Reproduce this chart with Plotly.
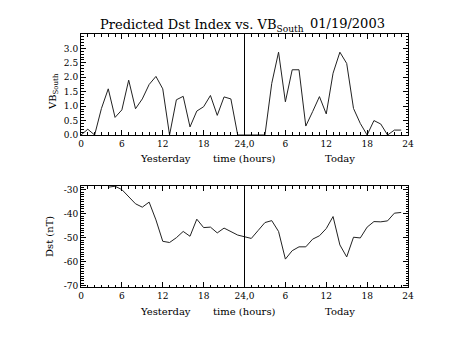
import plotly.graph_objects as go

# ---- data ----
vb_hours = [0, 1, 2, 3, 4, 5, 6, 7, 8, 9, 10, 11, 12, 13, 14, 15, 16, 17, 18, 19,
            20, 21, 22, 23, 24, 25, 26, 27, 28, 29, 30, 31, 32, 33, 34, 35, 36, 37,
            38, 39, 40, 41, 42, 43, 44, 45, 46, 47]
vb_south = [0.0, 0.2, 0.0, 0.92, 1.6, 0.61, 0.87, 1.9, 0.91, 1.25, 1.75, 2.03, 1.6,
            0.0, 1.22, 1.34, 0.28, 0.83, 0.98, 1.37, 0.68, 1.32, 1.25, 0.0,
            0.0, 0.0, 0.0, 0.0, 1.79, 2.87, 1.15, 2.26, 2.26, 0.31, 0.81, 1.33,
            0.73, 2.14, 2.87, 2.48, 0.92, 0.40, 0.0, 0.50, 0.38, 0.0, 0.17, 0.17]

dst_hours = [4, 5, 6, 7, 8, 9, 10, 11, 12, 13, 14, 15, 16, 17, 18, 19, 20, 21, 22,
             23, 24, 25, 26, 27, 28, 29, 30, 31, 32, 33, 34, 35, 36, 37, 38, 39, 40,
             41, 42, 43, 44, 45, 46, 47]
dst = [-29.0, -28.6, -30.0, -33.0, -35.9, -37.3, -35.2, -42.6, -51.5, -52.0, -50.0,
       -47.4, -49.4, -42.3, -45.8, -45.6, -48.0, -46.0, -47.5, -48.9, -49.6, -50.3,
       -47.0, -43.7, -42.9, -47.4, -58.9, -55.4, -53.8, -53.8, -50.6, -49.2, -46.2,
       -41.2, -53.0, -58.0, -49.8, -50.1, -45.6, -43.3, -43.4, -43.0, -39.8, -39.5]

x_tickvals = [0, 6, 12, 18, 24, 30, 36, 42, 48]
x_ticktext = ["0", "6", "12", "18", "24,0", "6", "12", "18", "24"]
vb_ticks = [0.0, 0.5, 1.0, 1.5, 2.0, 2.5, 3.0]
dst_ticks = [-30, -40, -50, -60, -70]
dst_ticktext = ["-30", "-40", "-50", "-60", "-70"]

FONT = "DejaVu Serif"
LINE = "#222222"

fig = go.Figure()
fig.add_trace(go.Scatter(x=vb_hours, y=vb_south, mode="lines",
                         line=dict(color=LINE, width=1), xaxis="x", yaxis="y",
                         showlegend=False, hoverinfo="skip"))
fig.add_trace(go.Scatter(x=dst_hours, y=dst, mode="lines",
                         line=dict(color=LINE, width=1), xaxis="x2", yaxis="y2",
                         showlegend=False, hoverinfo="skip"))

common_x = dict(range=[0, 48], tickmode="array", tickvals=x_tickvals, ticktext=x_ticktext,
                ticks="inside", ticklen=5, tickcolor="black", mirror="allticks",
                showline=True, linecolor="black", linewidth=1, showgrid=False,
                zeroline=False, tickfont=dict(family=FONT, size=9, color="black"),
                minor=dict(tickmode="array", tickvals=list(range(0, 49)), ticks="inside",
                           ticklen=2.5, tickcolor="black", showgrid=False))

fig.update_layout(
    width=453, height=340,
    margin=dict(l=81, r=45, t=34, b=53),
    paper_bgcolor="white", plot_bgcolor="white",
    xaxis=dict(domain=[0, 1], anchor="y", **common_x),
    xaxis2=dict(domain=[0, 1], anchor="y2", **common_x),
    yaxis=dict(domain=[0.6008, 1.0], anchor="x", range=[0, 3.5], tickmode="array",
               tickvals=vb_ticks, ticktext=[f"{v:.1f}" for v in vb_ticks],
               ticks="inside", ticklen=5, tickcolor="black", mirror="allticks",
               showline=True, linecolor="black", linewidth=1, showgrid=False,
               zeroline=False, tickfont=dict(family=FONT, size=9, color="black"),
               minor=dict(tickmode="array", tickvals=[i / 10 for i in range(0, 36)],
                          ticks="inside", ticklen=2.5, tickcolor="black", showgrid=False)),
    yaxis2=dict(domain=[0, 0.3992], anchor="x2", range=[-70.5, -28.5], tickmode="array",
                tickvals=dst_ticks, ticktext=dst_ticktext,
                ticks="inside", ticklen=5, tickcolor="black", mirror="allticks",
                showline=True, linecolor="black", linewidth=1, showgrid=False,
                zeroline=False, tickfont=dict(family=FONT, size=9, color="black"),
                minor=dict(tickmode="array", tickvals=list(range(-70, -28)),
                           ticks="inside", ticklen=2.5, tickcolor="black", showgrid=False)),
)

# vertical separators at 24h
for xa, ya in (("x", "y"), ("x2", "y2")):
    fig.add_shape(type="line", xref=xa, yref=f"{ya} domain", x0=24, x1=24, y0=0, y1=1,
                  line=dict(color="black", width=1))

ann_font = dict(family=FONT, size=10, color="black")
title_font = dict(family=FONT, size=13, color="black")
annotations = [
    dict(text="Predicted Dst Index vs. VB<sub>South</sub>", x=(98 - 81) / 327, y=1.0,
         xref="paper", yref="paper", xanchor="left", yanchor="bottom", yshift=-2,
         showarrow=False, font=title_font),
    dict(text="01/19/2003", x=(308 - 81) / 327, y=1.0,
         xref="paper", yref="paper", xanchor="left", yanchor="bottom", yshift=1,
         showarrow=False, font=title_font),
    dict(text="VB<sub>South</sub>", x=(53 - 81) / 327, y=(287 - 92) / 253,
         xref="paper", yref="paper", xanchor="center", yanchor="middle", textangle=-90,
         showarrow=False, font=ann_font),
    dict(text="Dst (nT)", x=(49 - 81) / 327, y=(287 - 237) / 253,
         xref="paper", yref="paper", xanchor="center", yanchor="middle", textangle=-90,
         showarrow=False, font=ann_font),
]
for ypix in (158, 311):
    yp = (287 - ypix) / 253
    annotations += [
        dict(text="Yesterday", x=12.4, xref="x", y=yp, yref="paper", showarrow=False,
             xanchor="center", yanchor="middle", font=ann_font),
        dict(text="time (hours)", x=24, xref="x", y=yp, yref="paper", showarrow=False,
             xanchor="center", yanchor="middle", font=ann_font),
        dict(text="Today", x=38, xref="x", y=yp, yref="paper", showarrow=False,
             xanchor="center", yanchor="middle", font=ann_font),
    ]
fig.update_layout(annotations=annotations)

fig.write_html("out.html")
